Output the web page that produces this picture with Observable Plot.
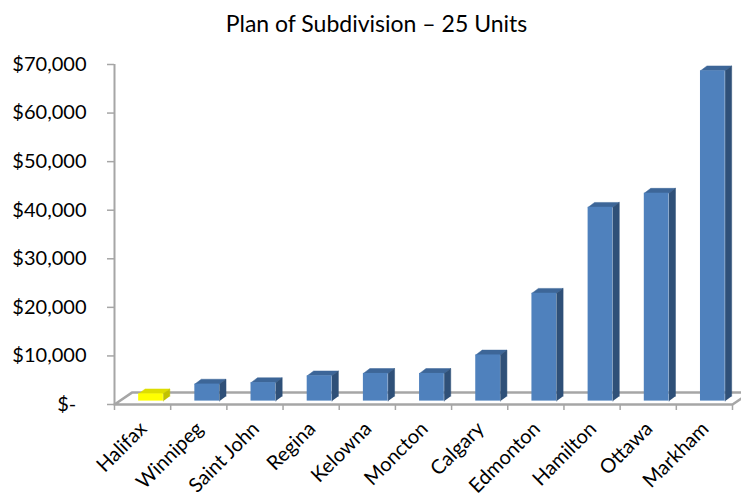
<!DOCTYPE html>
<html>
<head>
<meta charset="utf-8">
<script src="https://cdn.jsdelivr.net/npm/d3@7"></script>
<script src="https://cdn.jsdelivr.net/npm/@observablehq/plot@0.6"></script>
<style>
  html, body { margin: 0; padding: 0; background: #fff; }
  #wrap { position: relative; width: 741px; height: 496px; }
  #title {
    position: absolute; left: 12px; top: 9px; width: 729px;
    text-align: center; font: 23px Lato, sans-serif; line-height: 28px; color: #000;
  }
  #chart { position: absolute; left: 0; top: 0; }
</style>
</head>
<body>
<div id="wrap">
  <div id="chart"></div>
  <div id="title">Plan of Subdivision – 25 Units</div>
</div>
<script>
// Cost per city for a 25-unit plan of subdivision
const cities = ["Halifax", "Winnipeg", "Saint John", "Regina", "Kelowna", "Moncton",
                "Calgary", "Edmonton", "Hamilton", "Ottawa", "Markham"];
const costs = [1500, 3500, 3800, 5200, 5700, 5700, 9500, 22200, 39900, 42800, 68000];
const yTicks = [0, 10000, 20000, 30000, 40000, 50000, 60000, 70000];

// Pseudo-3D geometry, in scale units (x: category slots, y: dollars)
const faceLeft = 0.43, faceRight = 0.87;   // front face within each slot
const barBase = 700;                        // bars stand a little behind the front edge
const bevelX = 0.115, bevelY = 1000;        // bar depth (top and side faces)
const floorX = 0.31, floorY = 2450;         // floor depth

const blue = {front: "#4f81bd", top: "#3d6698", side: "#2f5078"};
const yellow = {front: "#ffff00", top: "#dede00", side: "#c2c200"};
const palette = i => (i === 0 ? yellow : blue);
const gray = "#a6a6a6";

const bars = cities.map((city, i) => ({
  city, i,
  x1: i + faceLeft, x2: i + faceRight,
  y1: barBase, y2: barBase + costs[i]
}));

// Top and side faces as closed polygons
const faces = [];
bars.forEach(b => {
  const {x1, x2, y1, y2, i} = b;
  const top = [[x1, y2], [x1 + bevelX, y2 + bevelY], [x2 + bevelX, y2 + bevelY], [x2, y2]];
  const side = [[x2, y1], [x2, y2], [x2 + bevelX, y2 + bevelY], [x2 + bevelX, y1 + bevelY]];
  top.forEach(([x, y]) => faces.push({key: `t${i}`, x, y, color: palette(i).top}));
  side.forEach(([x, y]) => faces.push({key: `s${i}`, x, y, color: palette(i).side}));
});

const n = cities.length;
const floor = [[0, 0], [floorX, floorY], [n + floorX, floorY], [n, 0], [0, 0]]
  .map(([x, y]) => ({x, y}));

const money = v => (v === 0 ? "$-\u00a0\u00a0" : "$" + d3.format(",")(v));

const chart = Plot.plot({
  width: 741,
  height: 496,
  marginLeft: 114,
  marginRight: 9,
  marginTop: 64,
  marginBottom: 92,
  style: {fontFamily: "Lato, sans-serif", fontSize: "20px", color: "#000", background: "transparent", overflow: "visible"},
  x: {type: "linear", domain: [0, n], axis: null},
  y: {domain: [0, 70000], axis: null},
  color: {type: "identity"},
  marks: [
    // floor outline
    Plot.line(floor, {x: "x", y: "y", stroke: gray, strokeWidth: 2.5, strokeLinejoin: "miter"}),
    // vertical axis line
    Plot.ruleX([0], {y1: 0, y2: 70000, stroke: gray, strokeWidth: 2}),
    Plot.axisY({ticks: yTicks, tickFormat: money, tickSize: 7, tickPadding: 21,
                stroke: gray, fill: "#000", strokeWidth: 1.5, fontSize: 20}),
    Plot.axisX({ticks: d3.range(n + 1), tickFormat: () => "", tickSize: 6,
                stroke: gray, strokeWidth: 1.5}),
    // slanted category labels, ending just below each slot's centre
    Plot.text(cities, {
      x: (d, i) => i + 0.5, y: () => 0, text: d => d,
      rotate: -45, textAnchor: "end", lineAnchor: "middle",
      dx: 1, dy: 21, fontSize: 20, fill: "#000"
    }),
    // bar faces
    Plot.line(faces, {x: "x", y: "y", z: "key", fill: "color", stroke: "color", strokeWidth: 0.5}),
    Plot.rect(bars, {x1: "x1", x2: "x2", y1: "y1", y2: "y2", fill: d => palette(d.i).front})
  ]
});
document.getElementById("chart").appendChild(chart);
</script>
</body>
</html>
